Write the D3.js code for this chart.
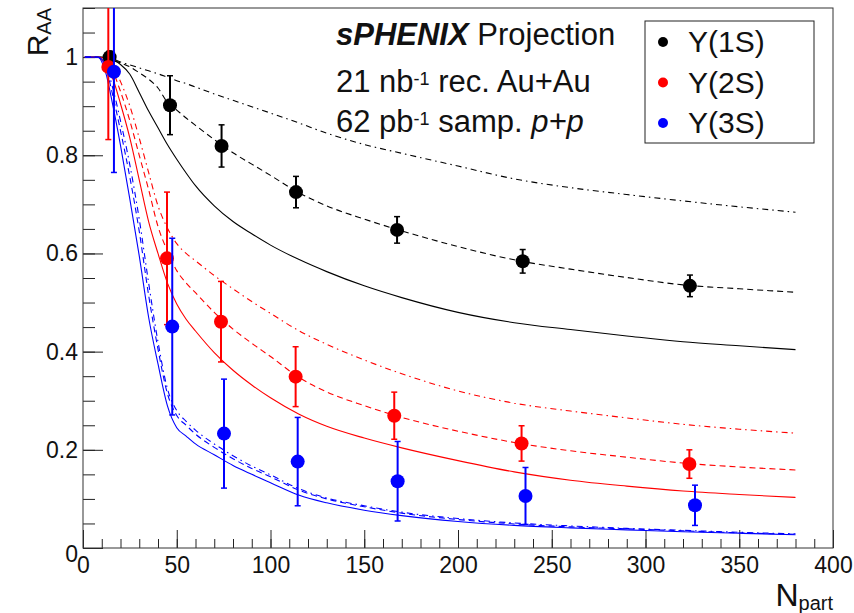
<!DOCTYPE html>
<html>
<head>
<meta charset="utf-8">
<script src="https://cdn.jsdelivr.net/npm/d3@7"></script>
<style>
  body { margin: 0; background: #fff; }
  text { font-family: 'Liberation Sans', Arial, Helvetica, sans-serif; }
</style>
</head>
<body>
<svg id="chart" width="854" height="613"></svg>
<script>
// Npart grid used for the model curves
var curveN = [1, 8, 12, 16, 20, 25, 30, 35, 40, 45, 50, 55, 60, 70, 80, 90, 100, 115, 130, 150, 170, 200, 230, 260, 290, 320, 350, 380]

// Y(1S) model curves
var ups1Solid = [1, 1, 0.999, 0.994, 0.985, 0.965, 0.928, 0.89, 0.856, 0.822, 0.792, 0.764, 0.738, 0.697, 0.665, 0.64, 0.617, 0.588, 0.563, 0.534, 0.51, 0.48, 0.459, 0.445, 0.432, 0.42, 0.412, 0.404]
var ups1Dashed = [1, 1, 0.998, 0.993, 0.988, 0.98, 0.968, 0.955, 0.937, 0.908, 0.892, 0.876, 0.861, 0.832, 0.805, 0.782, 0.759, 0.724, 0.697, 0.67, 0.646, 0.614, 0.587, 0.568, 0.551, 0.536, 0.528, 0.521]
var ups1DashDot = [1, 1, 0.999, 0.996, 0.99, 0.984, 0.978, 0.972, 0.966, 0.959, 0.952, 0.946, 0.939, 0.925, 0.912, 0.899, 0.886, 0.866, 0.845, 0.822, 0.804, 0.778, 0.752, 0.734, 0.72, 0.707, 0.695, 0.684]

// Y(2S) model curves
var ups2Solid = [1, 1, 0.985, 0.955, 0.905, 0.835, 0.75, 0.665, 0.6, 0.54, 0.497, 0.466, 0.442, 0.398, 0.362, 0.332, 0.306, 0.273, 0.248, 0.224, 0.204, 0.178, 0.155, 0.138, 0.126, 0.116, 0.109, 0.103]
var ups2Dashed = [1, 1, 0.993, 0.97, 0.93, 0.87, 0.8, 0.73, 0.655, 0.605, 0.565, 0.54, 0.52, 0.48, 0.446, 0.417, 0.39, 0.348, 0.318, 0.29, 0.266, 0.238, 0.215, 0.198, 0.185, 0.173, 0.165, 0.159]
var ups2DashDot = [1, 1, 0.996, 0.98, 0.95, 0.9, 0.835, 0.765, 0.697, 0.652, 0.62, 0.6, 0.585, 0.555, 0.528, 0.502, 0.478, 0.443, 0.415, 0.383, 0.355, 0.32, 0.295, 0.279, 0.265, 0.252, 0.242, 0.234]

// Y(3S) model curves
var ups3Solid = [1, 1, 0.97, 0.9, 0.82, 0.71, 0.595, 0.47, 0.375, 0.29, 0.245, 0.228, 0.212, 0.19, 0.168, 0.15, 0.133, 0.108, 0.092, 0.077, 0.066, 0.054, 0.046, 0.041, 0.037, 0.033, 0.03, 0.027]
var ups3Dashed = [1, 1, 0.98, 0.92, 0.85, 0.755, 0.645, 0.515, 0.405, 0.315, 0.27, 0.25, 0.232, 0.205, 0.182, 0.162, 0.145, 0.118, 0.1, 0.084, 0.071, 0.058, 0.049, 0.043, 0.039, 0.035, 0.031, 0.028]
var ups3DashDot = [1, 1, 0.985, 0.935, 0.87, 0.78, 0.67, 0.54, 0.42, 0.325, 0.28, 0.258, 0.24, 0.212, 0.188, 0.167, 0.149, 0.121, 0.102, 0.086, 0.073, 0.06, 0.051, 0.045, 0.04, 0.036, 0.032, 0.029]

// projected points
var ups1N = [14.2, 46.4, 73.9, 113.6, 167.5, 234.5, 323.7]
var ups1R = [1.0, 0.902, 0.819, 0.725, 0.648, 0.584, 0.534]
var ups1Err = [0.012, 0.06, 0.043, 0.032, 0.027, 0.024, 0.022]

var ups2N = [13.5, 44.8, 73.6, 113.4, 166, 233.9, 323.4]
var ups2R = [0.98, 0.59, 0.461, 0.349, 0.2695, 0.213, 0.171]
var ups2Err = [0.148, 0.135, 0.082, 0.061, 0.048, 0.036, 0.029]

var ups3N = [16.5, 47.6, 75.2, 114.5, 167.8, 236, 326.4]
var ups3R = [0.97, 0.451, 0.233, 0.176, 0.136, 0.106, 0.087]
var ups3Err = [0.205, 0.18, 0.111, 0.09, 0.081, 0.058, 0.041]

var legendLabels = ['Y(1S)', 'Y(2S)', 'Y(3S)']
var stateColors = ['#000000', '#ff0000', '#0000ff']

var xMajor = [0, 50, 100, 150, 200, 250, 300, 350, 400]
var yMajor = [0, 0.2, 0.4, 0.6, 0.8, 1]

var svg = d3.select('#chart')

var x = d3.scaleLinear().domain([0, 400]).range([83, 833])
var y = d3.scaleLinear().domain([0, 1.1]).range([548, 8])

svg.append('defs').append('clipPath')
  .attr('id', 'plotclip')
  .append('rect')
  .attr('x', 83).attr('y', 8).attr('width', 750).attr('height', 540)

// minor ticks first, then major ticks with labels
svg.append('g')
  .attr('transform', 'translate(0,548)')
  .call(d3.axisBottom(x).tickValues(d3.range(0, 401, 10)).tickSizeInner(-9).tickSizeOuter(0).tickFormat(''))
svg.append('g')
  .attr('class', 'xaxis')
  .attr('transform', 'translate(0,548)')
  .call(d3.axisBottom(x).tickValues(xMajor).tickSizeInner(-18).tickSizeOuter(0).tickPadding(9).tickFormat(d3.format('d')))

svg.append('g')
  .attr('transform', 'translate(83,0)')
  .call(d3.axisLeft(y).tickValues(d3.range(0, 1.101, 0.05)).tickSizeInner(-12).tickSizeOuter(0).tickFormat(''))
svg.append('g')
  .attr('class', 'yaxis')
  .attr('transform', 'translate(83,0)')
  .call(d3.axisLeft(y).tickValues(yMajor).tickSizeInner(-20).tickSizeOuter(0).tickPadding(5).tickFormat(function (d) { return d === 0 || d === 1 ? String(d) : d.toFixed(1) }))

svg.selectAll('.domain').remove()
svg.selectAll('.tick line').attr('stroke', '#222')
svg.selectAll('.xaxis text, .yaxis text')
  .attr('font-size', 23)
  .attr('fill', '#111')
  .style('font-family', "'Liberation Sans', Arial, sans-serif")
// y axis "0" sits a bit lower like in ROOT
svg.selectAll('.yaxis .tick text').filter(function (d) { return d === 0 }).attr('dy', '0.6em')

// frame
svg.append('rect')
  .attr('x', 83).attr('y', 8).attr('width', 750).attr('height', 540)
  .attr('fill', 'none').attr('stroke', '#333').attr('stroke-width', 1)

// model curves
var line = d3.line()
  .x(function (d) { return x(d[0]) })
  .y(function (d) { return y(d[1]) })
  .curve(d3.curveMonotoneX)

var curves = [
  [ups1DashDot, 0, '6,4,1.5,4'], [ups1Dashed, 0, '6,4'], [ups1Solid, 0, null],
  [ups2DashDot, 1, '6,4,1.5,4'], [ups2Dashed, 1, '6,4'], [ups2Solid, 1, null],
  [ups3DashDot, 2, '6,4,1.5,4'], [ups3Dashed, 2, '6,4'], [ups3Solid, 2, null]
]

var cg = svg.append('g').attr('clip-path', 'url(#plotclip)')
curves.forEach(function (c) {
  var pts = curveN.map(function (n, i) { return [n, c[0][i]] })
  cg.append('path')
    .datum(pts)
    .attr('d', line)
    .attr('fill', 'none')
    .attr('stroke', stateColors[c[1]])
    .attr('stroke-width', 1.1)
    .attr('stroke-dasharray', c[2])
})

// points with error bars
var states = [
  [ups1N, ups1R, ups1Err],
  [ups2N, ups2R, ups2Err],
  [ups3N, ups3R, ups3Err]
]

var pg = svg.append('g').attr('clip-path', 'url(#plotclip)')
states.forEach(function (s, k) {
  var data = s[0].map(function (n, i) { return { n: n, r: s[1][i], e: s[2][i] } })
  var g = pg.append('g')
  var bars = g.selectAll('g.eb').data(data).enter().append('g')
  bars.append('line')
    .attr('x1', function (d) { return x(d.n) })
    .attr('x2', function (d) { return x(d.n) })
    .attr('y1', function (d) { return y(d.r + d.e) })
    .attr('y2', function (d) { return y(d.r - d.e) })
    .attr('stroke', stateColors[k]).attr('stroke-width', 2)
  bars.append('line')
    .attr('x1', function (d) { return x(d.n) - 3 })
    .attr('x2', function (d) { return x(d.n) + 3 })
    .attr('y1', function (d) { return y(d.r + d.e) })
    .attr('y2', function (d) { return y(d.r + d.e) })
    .attr('stroke', stateColors[k]).attr('stroke-width', 1.5)
  bars.append('line')
    .attr('x1', function (d) { return x(d.n) - 3 })
    .attr('x2', function (d) { return x(d.n) + 3 })
    .attr('y1', function (d) { return y(d.r - d.e) })
    .attr('y2', function (d) { return y(d.r - d.e) })
    .attr('stroke', stateColors[k]).attr('stroke-width', 1.5)
  g.selectAll('circle').data(data).enter().append('circle')
    .attr('cx', function (d) { return x(d.n) })
    .attr('cy', function (d) { return y(d.r) })
    .attr('r', 7)
    .attr('fill', stateColors[k])
})

// text block
var tb = svg.append('g').attr('font-size', 31).attr('fill', '#111')
var t1 = tb.append('text').attr('x', 336).attr('y', 45)
t1.append('tspan').attr('font-weight', 'bold').attr('font-style', 'italic').text('sPHENIX')
t1.append('tspan').text(' Projection')

var t2 = tb.append('text').attr('x', 336).attr('y', 92)
t2.append('tspan').text('21 nb')
t2.append('tspan').attr('font-size', 18).attr('dy', -7).text('-1')
t2.append('tspan').attr('dy', 7).text(' rec. Au+Au')

var t3 = tb.append('text').attr('x', 336).attr('y', 132)
t3.append('tspan').text('62 pb')
t3.append('tspan').attr('font-size', 18).attr('dy', -7).text('-1')
t3.append('tspan').attr('dy', 7).text(' samp. ')
t3.append('tspan').attr('font-style', 'italic').text('p+p')

// legend
svg.append('rect')
  .attr('x', 645).attr('y', 21).attr('width', 169).attr('height', 122)
  .attr('fill', '#fff').attr('stroke', '#222').attr('stroke-width', 1)
var leg = svg.selectAll('g.leg').data(legendLabels).enter().append('g')
  .attr('transform', function (d, i) { return 'translate(0,' + (i * 40.5) + ')' })
leg.append('circle')
  .attr('cx', 663).attr('cy', 42).attr('r', 5)
  .attr('fill', function (d, i) { return stateColors[i] })
leg.append('text')
  .attr('x', 688).attr('y', 52)
  .attr('font-size', 30).attr('fill', '#111')
  .text(function (d) { return d })

// axis titles
var xt = svg.append('text').attr('x', 833).attr('y', 606).attr('text-anchor', 'end').attr('fill', '#111')
xt.append('tspan').attr('font-size', 32).text('N')
xt.append('tspan').attr('font-size', 20).attr('dy', 4).text('part')

var yt = svg.append('text').attr('transform', 'translate(48,8) rotate(-90)').attr('text-anchor', 'end').attr('fill', '#111')
yt.append('tspan').attr('font-size', 30).text('R')
yt.append('tspan').attr('font-size', 20).attr('dy', 3).text('AA')
</script>
</body>
</html>
